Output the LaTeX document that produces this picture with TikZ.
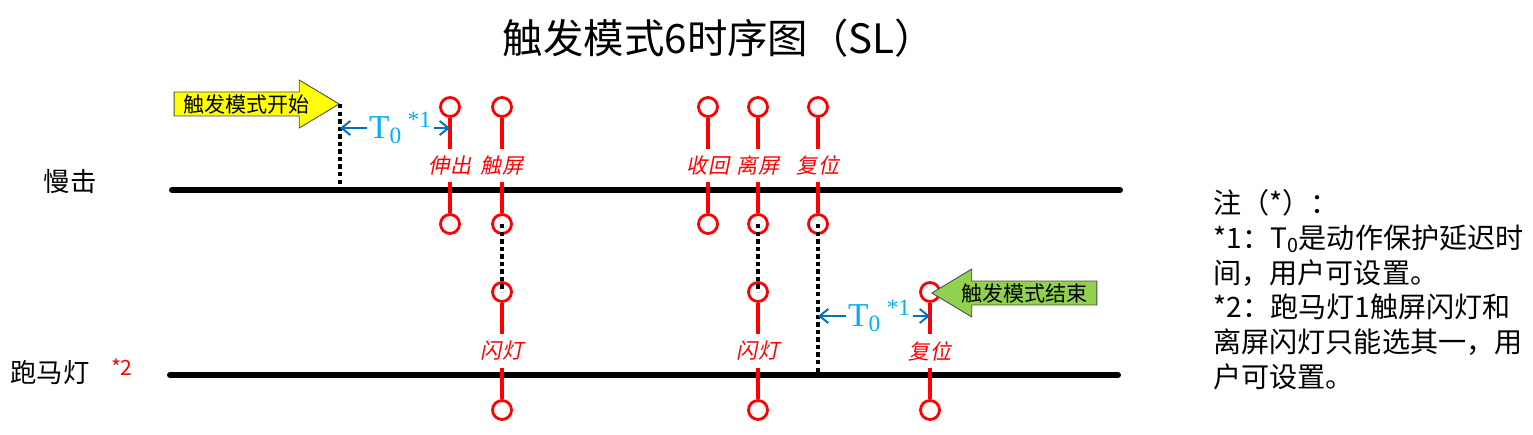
\documentclass[tikz,border=0pt]{standalone}
\usepackage{fontspec}
\setmainfont{Noto Sans CJK SC}
\newfontfamily\cjkslant[FakeSlant=0.2]{Noto Sans CJK SC}
\newfontfamily\latinserif{Liberation Serif}
\usetikzlibrary{positioning, arrows.meta, shapes.arrows}

\definecolor{signalred}{RGB}{255,0,0}
\definecolor{dimblue}{RGB}{0,112,192}
\definecolor{textblue}{RGB}{0,176,240}
\definecolor{startyellow}{RGB}{255,255,0}
\definecolor{endgreen}{RGB}{146,208,80}

\begin{document}
\begin{tikzpicture}[
  x=0.02cm, y=-0.02cm,
  % axis styles
  timeline/.style={draw, line width=3.4pt, line cap=round},
  guide/.style={draw, line width=2pt, dash pattern=on 2.5pt off 1.8pt},
  rowname/.style={font=\fontsize{15}{15}\selectfont},
  % event styles
  pin/.style={circle, draw=signalred, line width=1.6pt, fill=white, minimum size=0.38cm, inner sep=0pt},
  stem/.style={draw=signalred, line width=1.8pt},
  evlabel/.style={fill=white, text=signalred, font=\cjkslant\fontsize{12}{12}\selectfont, inner xsep=1pt, inner ysep=4pt},
  % delay styles
  dim/.style={draw=dimblue, line width=1.1pt, {Straight Barb[length=5pt,width=8pt]}-{Straight Barb[length=5pt,width=8pt]}},
  dimlabel/.style={fill=white, text=textblue, font=\latinserif\fontsize{19}{19}\selectfont, inner sep=1pt},
  modearrow/.style={single arrow, draw=black!70, line width=0.5pt, minimum height=3.3cm, minimum width=0.96cm,
    single arrow head extend=0.24cm, single arrow tip angle=62, inner sep=1pt, font=\fontsize{12}{12}\selectfont}
]
  \useasboundingbox (0,0) rectangle (1533,434);

  % ==========================================
  % TITLE
  % ==========================================
  \node (title) at (719,38) {\fontsize{23}{23}\selectfont 触发模式6时序图（SL）};

  % ==========================================
  % TIME LINES
  % ==========================================
  \node[rowname] (slowname) at (70,181) {慢击};
  \coordinate (slowL) at (172,190);
  \coordinate (slowR) at (1120,190);
  \draw[timeline] (slowL) -- (slowR);

  \node[rowname] (runname) at (50,372) {跑马灯};
  \node[text=signalred, font=\fontsize{12}{12}\selectfont, right=0.3cm of runname.east, yshift=0.1cm, inner sep=0pt] (star2) {*2};
  \coordinate (runL) at (170,375);
  \coordinate (runR) at (1118,375);
  \draw[timeline] (runL) -- (runR);

  % ==========================================
  % SLOW HIT EVENTS
  % ==========================================
  \node[pin] (extT) at (450,107) {};
  \node[pin] (extB) at (450,224) {};
  \draw[stem] (extT) -- node[evlabel] (extL) {伸出} (extB);

  \node[pin] (touchT) at (502,107) {};
  \node[pin] (touchB) at (502,224) {};
  \draw[stem] (touchT) -- node[evlabel] (touchL) {触屏} (touchB);

  \node[pin] (backT) at (708,107) {};
  \node[pin] (backB) at (708,224) {};
  \draw[stem] (backT) -- node[evlabel] (backL) {收回} (backB);

  \node[pin] (leaveT) at (758,107) {};
  \node[pin] (leaveB) at (758,224) {};
  \draw[stem] (leaveT) -- node[evlabel] (leaveL) {离屏} (leaveB);

  \node[pin] (resetT) at (818,107) {};
  \node[pin] (resetB) at (818,224) {};
  \draw[stem] (resetT) -- node[evlabel] (resetL) {复位} (resetB);

  % ==========================================
  % MARQUEE EVENTS
  % ==========================================
  \node[pin] (flashaT) at (502,292) {};
  \node[pin] (flashaB) at (502,410) {};
  \draw[stem] (flashaT) -- node[evlabel] (flashaL) {闪灯} (flashaB);

  \node[pin] (flashbT) at (758,292) {};
  \node[pin] (flashbB) at (758,410) {};
  \draw[stem] (flashbT) -- node[evlabel] (flashbL) {闪灯} (flashbB);

  \node[pin] (homeT) at (930,292) {};
  \node[pin] (homeB) at (930,410) {};
  \draw[stem] (homeT) -- node[evlabel] (homeL) {复位} (homeB);

  % links between rows
  \draw[guide] (touchB.center) -- (flashaT.center);
  \draw[guide] (leaveB.center) -- (flashbT.center);
  \draw[guide] (resetB.center) -- (resetB |- runL);

  % ==========================================
  % MODE START / END
  % ==========================================
  \node[modearrow, fill=startyellow, anchor=tip] (start) at (340,104) {触发模式开始};
  \draw[guide] (start.tip) -- (start.tip |- slowL);

  \coordinate (delaya) at (340,128);
  \draw[dim] (delaya) -- node[dimlabel, pos=0.55] (t0a) {T\textsubscript{0}\,\textsuperscript{*1}} (delaya -| extT);

  \node[modearrow, fill=endgreen, shape border rotate=180, anchor=tip] (stop) at (931,293) {触发模式结束};

  \coordinate (delayb) at (818,316);
  \draw[dim] (delayb) -- node[dimlabel, pos=0.55] (t0b) {T\textsubscript{0}\,\textsuperscript{*1}} (delayb -| homeT);

  % ==========================================
  % NOTES
  % ==========================================
  \node[anchor=north west, align=left, inner sep=0pt, font=\fontsize{16}{19.8}\selectfont] (notes) at (1213,189) {
    注（*）：\\
    *1：T\textsubscript{0}是动作保护延迟时\\
    间，用户可设置。\\
    *2：跑马灯1触屏闪灯和\\
    离屏闪灯只能选其一，用\\
    户可设置。
  };

\end{tikzpicture}
\end{document}
